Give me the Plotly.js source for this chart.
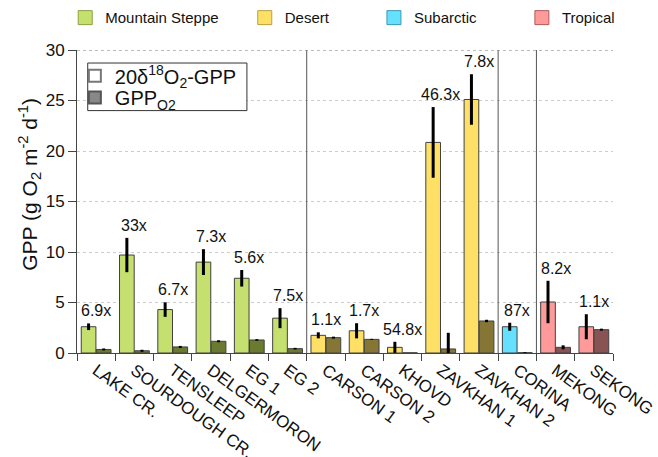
<!DOCTYPE html>
<html>
<head>
<meta charset="utf-8">
<script src="https://cdn.plot.ly/plotly-3.0.1.min.js"></script>
<style>html,body{margin:0;padding:0;background:#fff;}#chart{width:658px;height:457px;}</style>
</head>
<body>
<div id="chart"></div>
<script>
// ---- data ----
const categories = ['LAKE CR.','SOURDOUGH CR.','TENSLEEP','DELGERMORON','EG 1','EG 2','CARSON 1','CARSON 2','KHOVD','ZAVKHAN 1','ZAVKHAN 2','CORINA','MEKONG','SEKONG'];
const biome = ['Mountain Steppe','Mountain Steppe','Mountain Steppe','Mountain Steppe','Mountain Steppe','Mountain Steppe','Desert','Desert','Desert','Desert','Desert','Subarctic','Tropical','Tropical'];
const gpp18 = [2.6, 9.7, 4.3, 9.0, 7.4, 3.45, 1.75, 2.2, 0.56, 20.85, 25.1, 2.6, 5.05, 2.6];
const gpp18Err = [0.33, 1.7, 0.72, 1.28, 0.82, 0.99, 0.3, 0.75, 0.55, 3.5, 2.5, 0.4, 2.1, 1.24];
const gppO2 = [0.35, 0.22, 0.6, 1.16, 1.29, 0.43, 1.52, 1.35, 0.02, 0.4, 3.17, 0.03, 0.56, 2.31];
const gppO2Err = [0.1, 0.1, 0.1, 0.1, 0.08, 0.08, 0.1, 0.05, 0, 1.6, 0.12, 0.05, 0.2, 0.1];
const ratioLabels = ['6.9x','33x','6.7x','7.3x','5.6x','7.5x','1.1x','1.7x','54.8x','46.3x','7.8x','87x','8.2x','1.1x'];
const biomes = ['Mountain Steppe','Desert','Subarctic','Tropical'];
const seriesNames = ['20δ<sup>18</sup>O<sub>2</sub>-GPP', 'GPP<sub>O2</sub>'];
const yTitle = 'GPP (g O<sub>2</sub> m<sup>-2</sup> d<sup>-1</sup>)';
const yTicks = [0,5,10,15,20,25,30];

// ---- styles ----
const lightColor = {'Mountain Steppe':'#c5e06f','Desert':'#ffe066','Subarctic':'#66e0ff','Tropical':'#ff9a9a'};
const darkColor  = {'Mountain Steppe':'#6b7a31','Desert':'#857636','Subarctic':'#2a7a90','Tropical':'#8a5353'};
const legendEdge = {'Mountain Steppe':'#8aa040','Desert':'#b8a040','Subarctic':'#3a9ab0','Tropical':'#b05a5a'};
const FONT = 'Liberation Sans, Arial, sans-serif';
const outline = {color:'#404040', width:1};

const traces = [];
traces.push({
  type:'bar', x:categories, y:gpp18, name:'light', showlegend:false,
  marker:{color:biome.map(b=>lightColor[b]), line:outline},
  error_y:{type:'data', array:gpp18Err, visible:true, color:'#000', thickness:3, width:0},
  hoverinfo:'skip'
});
traces.push({
  type:'bar', x:categories, y:gppO2, name:'dark', showlegend:false,
  marker:{color:biome.map(b=>darkColor[b]), line:outline},
  error_y:{type:'data', array:gppO2Err, visible:true, color:'#000', thickness:3, width:0},
  hoverinfo:'skip'
});
// inner legend entries (one legend each, for tight row spacing)
traces.push({type:'scatter', mode:'markers', x:[null], y:[null], name:seriesNames[0],
  marker:{symbol:'square', size:12, color:'#ffffff', line:{color:'#777', width:1}}, legend:'legend6'});
traces.push({type:'scatter', mode:'markers', x:[null], y:[null], name:seriesNames[1],
  marker:{symbol:'square', size:12, color:'#888888', line:{color:'#555', width:1}}, legend:'legend7'});
// top legend entries (one legend each)
const topLegX = [-0.022, 0.313, 0.554, 0.830];
biomes.forEach((b,i)=>{
  traces.push({type:'scatter', mode:'markers', x:[null], y:[null], name:b,
    marker:{symbol:'square', size:14, color:lightColor[b], line:{color:legendEdge[b], width:1}},
    legend:'legend'+(i+2)});
});

const annotations = categories.map((c,i)=>({
  x:c, y:gpp18[i]+gpp18Err[i], xref:'x', yref:'y', text:ratioLabels[i],
  showarrow:false, yanchor:'bottom', yshift:2, font:{family:FONT, size:16, color:'#111'}
}));
// y-axis title
annotations.push({text:yTitle, xref:'paper', yref:'paper', x:-0.088, y:0.558, textangle:-90,
  showarrow:false, xanchor:'center', yanchor:'middle', font:{family:FONT, size:21, color:'#111'}});

const shapes = [5.5, 10.5, 11.5].map(v=>({
  type:'line', xref:'x', yref:'y', x0:v, x1:v, y0:0, y1:30, line:{color:'#555', width:1}
}));
shapes.push({type:'line', xref:'paper', yref:'y', x0:0, x1:1, y0:30, y1:30, line:{color:'#777', width:1, dash:'dot'}});
// inner legend frame
shapes.push({type:'rect', xref:'paper', yref:'paper', x0:0.02, x1:0.317, y0:0.800, y1:0.957,
  line:{color:'#333', width:1}, fillcolor:'#ffffff', layer:'above'});

const layout = {
  width:658, height:457,
  margin:{l:77, r:45, t:50, b:104, autoexpand:false},
  paper_bgcolor:'#fff', plot_bgcolor:'#fff',
  font:{family:FONT, size:16, color:'#111'},
  barmode:'group', bargap:0.21, bargroupgap:0.03,
  xaxis:{type:'category', tickangle:36, tickson:'boundaries', ticks:'outside', ticklen:7, tickcolor:'#444',
    showline:true, linecolor:'#444', linewidth:1, showgrid:false, tickfont:{family:FONT, size:17, color:'#111'},
    range:[-0.5, 13.5], automargin:false},
  yaxis:{range:[0,30], tickvals:yTicks, ticks:'outside', ticklen:8, tickcolor:'#444', showline:true, linecolor:'#444',
    linewidth:1, showgrid:true, gridcolor:'#cccccc', griddash:'dot', zeroline:false, automargin:false,
    tickfont:{family:FONT, size:17, color:'#111'}},
  annotations:annotations,
  shapes:shapes,
  showlegend:true
};
biomes.forEach((b,i)=>{
  layout['legend'+(i+2)] = {x:topLegX[i], y:1.106, xanchor:'left', yanchor:'middle', orientation:'h',
    bgcolor:'rgba(0,0,0,0)', font:{family:FONT, size:15, color:'#111'}};
});
layout.legend6 = {x:-0.004, y:0.915, xanchor:'left', yanchor:'middle', bgcolor:'rgba(0,0,0,0)',
  font:{family:FONT, size:20, color:'#111'}, itemsizing:'constant'};
layout.legend7 = {x:-0.004, y:0.843, xanchor:'left', yanchor:'middle', bgcolor:'rgba(0,0,0,0)',
  font:{family:FONT, size:20, color:'#111'}, itemsizing:'constant'};

Plotly.newPlot('chart', traces, layout, {displayModeBar:false, staticPlot:true});
</script>
</body>
</html>
